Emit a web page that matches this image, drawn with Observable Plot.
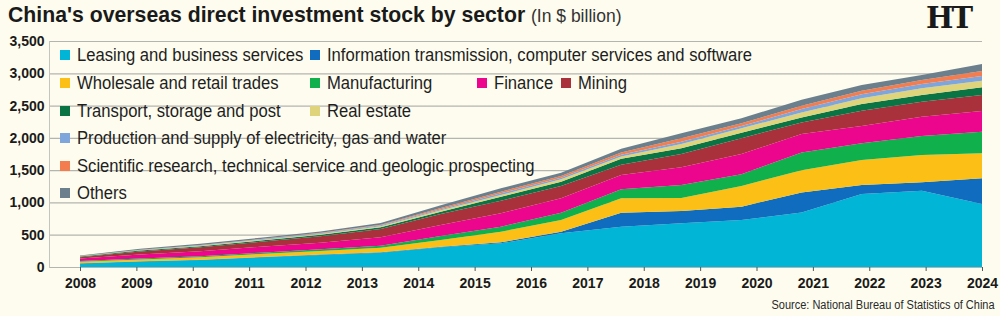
<!DOCTYPE html>
<html><head><meta charset="utf-8">
<script src="https://cdn.jsdelivr.net/npm/d3@7"></script>
<script src="https://cdn.jsdelivr.net/npm/@observablehq/plot@0.6"></script>
<style>
html,body{margin:0;padding:0;background:#fdfcee;}
#wrap{position:relative;width:1000px;height:316px;overflow:hidden;background:#fdfcee;color:#1a1a1a;font-family:"Liberation Sans",Arial,sans-serif;}
#title{position:absolute;left:8px;top:2px;white-space:nowrap;font-weight:bold;font-size:22px;line-height:26px;transform:scaleX(0.965);transform-origin:0 0;}
#subtitle{position:absolute;left:531px;top:6px;white-space:nowrap;font-size:17.5px;line-height:20px;color:#333;}
#logo{position:absolute;left:926px;top:1px;font-family:"DejaVu Serif",serif;font-weight:bold;font-size:29px;line-height:34px;letter-spacing:-2px;}
#chart{position:absolute;left:0;top:33px;}
#legend{position:absolute;left:0;top:0;width:1000px;height:316px;pointer-events:none;}
.li{position:absolute;white-space:nowrap;font-size:17.5px;line-height:20px;color:#1e1e1e;transform:scaleX(0.95);transform-origin:0 50%;}
.sw{position:absolute;width:10px;height:10px;}
#source{position:absolute;right:5px;top:298px;font-size:12.5px;line-height:15px;color:#2a2a2a;white-space:nowrap;transform:scaleX(0.88);transform-origin:100% 0;}
</style></head><body>
<div id="wrap">
  <div id="title">China's overseas direct investment stock by sector</div>
  <div id="subtitle">(In $ billion)</div>
  <div id="logo">HT</div>
  <div id="chart"></div>
  <div id="legend"></div>
  <div id="source">Source: National Bureau of Statistics of China</div>
</div>
<script>
// ---- Data (US$ billion), 16 data points spread evenly across the 2008–2024 axis ----
const tickYears = [2008,2009,2010,2011,2012,2013,2014,2015,2016,2017,2018,2019,2020,2021,2022,2023,2024];
const yTicks = [0,500,1000,1500,2000,2500,3000,3500];

const sectors = [
  "Leasing and business services",
  "Information transmission, computer services and software",
  "Wholesale and retail trades",
  "Manufacturing",
  "Finance",
  "Mining",
  "Transport, storage and post",
  "Real estate",
  "Production and supply of electricity, gas and water",
  "Scientific research, technical service and geologic prospecting",
  "Others"
];
const colors = ["#00b5d5","#0f6cbf","#fcbf16","#10b04c","#ec068d","#a8313b","#0b7445","#dfd37c","#7ea6dc","#f47d50","#6b7f8c"];

const leasing       = [55, 85, 108, 150, 186, 222, 305, 367, 522, 625, 677, 728, 845, 1131, 1182, 976];
const information   = [3, 3, 4, 5, 6, 8, 10, 15, 25, 215, 190, 206, 310, 139, 130, 398];
const wholesale     = [24, 30, 38, 46, 56, 69, 103, 165, 181, 224, 203, 321, 345, 387, 423, 387];
const manufacturing = [10, 12, 16, 21, 26, 31, 62, 78, 113, 141, 200, 181, 275, 259, 294, 335];
const finance       = [38, 65, 79, 92, 103, 130, 170, 206, 223, 220, 274, 314, 283, 268, 299, 320];
const mining        = [22, 45, 60, 76, 98, 130, 171, 196, 191, 160, 206, 244, 180, 237, 233, 248];
const transport     = [10, 14, 17, 20, 23, 25, 36, 62, 66, 90, 89, 86, 77, 104, 103, 119];
const realEstate    = [4, 7, 8, 10, 14, 17, 23, 26, 37, 35, 66, 68, 79, 88, 104, 103];
const electricity   = [2, 4, 6, 8, 10, 13, 15, 26, 25, 30, 36, 36, 51, 62, 67, 72];
const scientific    = [2, 3, 4, 6, 8, 10, 17, 25, 26, 35, 53, 42, 51, 56, 62, 78];
const others        = [7, 14, 20, 20, 20, 25, 43, 53, 51, 55, 77, 77, 96, 88, 77, 108];

const series = [leasing, information, wholesale, manufacturing, finance, mining, transport, realEstate, electricity, scientific, others];

// ---- Build long table ----
const n = leasing.length;
const first = tickYears[0], last = tickYears[tickYears.length - 1];
const xAt = i => first + i * (last - first) / (n - 1);
const rows = [];
series.forEach((vals, s) => vals.forEach((v, i) => rows.push({x: xAt(i), sector: sectors[s], value: v})));

const chart = Plot.plot({
  width: 1000,
  height: 265,
  marginTop: 8,
  marginBottom: 31,
  marginLeft: 49,
  marginRight: 18,
  insetLeft: 31,
  x: {domain: [first, last], label: null},
  y: {domain: [0, 3500], label: null},
  color: {domain: sectors, range: colors},
  style: {fontFamily: '"Liberation Sans",Arial,sans-serif', fontSize: "14px", fontWeight: "bold", color: "#1a1a1a", background: "transparent", overflow: "visible"},
  marks: [
    Plot.gridY(yTicks, {stroke: "#b4b4b0", strokeOpacity: 1, strokeWidth: 1.2}),
    Plot.frame({anchor: "left", stroke: "#c4c4c0"}),
    Plot.areaY(rows, Plot.stackY({order: sectors}, {x: "x", y: "value", z: "sector", fill: "sector", curve: "linear"})),
    Plot.axisX(tickYears, {tickSize: 4, tickPadding: 7, tickFormat: d => String(d), stroke: "#555", label: null}),
    Plot.axisY(yTicks, {tickSize: 0, tickPadding: 5, tickFormat: d3.format(","), label: null})
  ]
});
document.getElementById("chart").appendChild(chart);

// ---- Legend (HTML overlay) ----
const legendRows = [[0, 1], [2, 3, 4, 5], [6, 7], [8], [9], [10]];
const colX = [[77, 327], [77, 327, 494, 578], [77, 327], [77], [77], [77]];
const rowY = [55, 83, 111, 138, 166, 193];
const leg = document.getElementById("legend");
legendRows.forEach((r, ri) => r.forEach((si, ci) => {
  const sw = document.createElement("div");
  sw.className = "sw";
  sw.style.left = (colX[ri][ci] - 17) + "px";
  sw.style.top = (rowY[ri] - 5) + "px";
  sw.style.background = colors[si];
  leg.appendChild(sw);
  const t = document.createElement("div");
  t.className = "li";
  t.style.left = colX[ri][ci] + "px";
  t.style.top = (rowY[ri] - 10) + "px";
  t.textContent = sectors[si];
  leg.appendChild(t);
}));
</script>
</body></html>
